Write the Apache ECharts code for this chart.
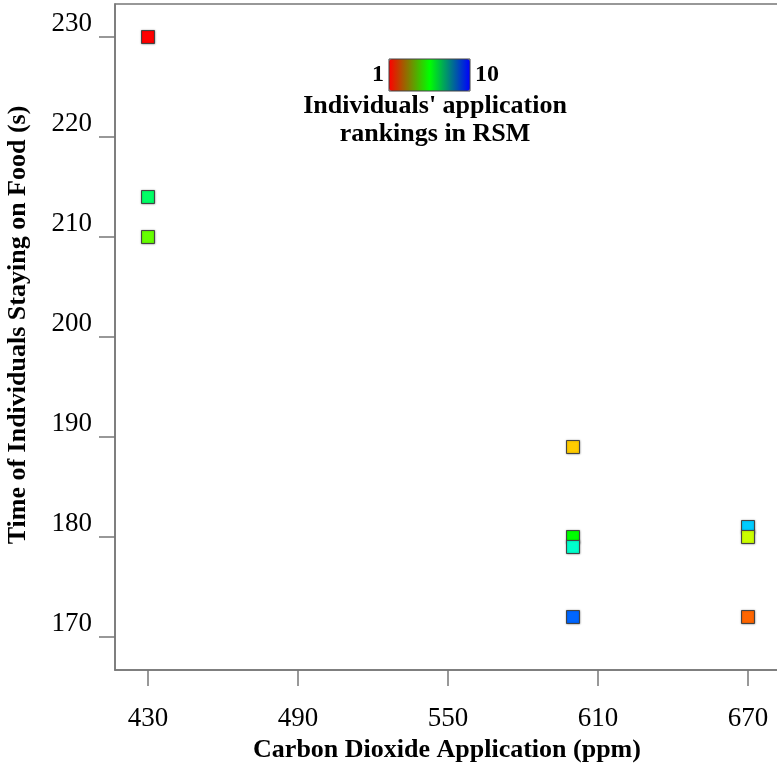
<!DOCTYPE html>
<html>
<head>
<meta charset="utf-8">
<script src="https://cdn.jsdelivr.net/npm/echarts@6/dist/echarts.min.js"></script>
<style>html,body{margin:0;padding:0;background:#fff}#c{width:777px;height:767px}</style>
</head>
<body>
<div id="c"></div>
<script>
// Data
var co2 = [430, 430, 430, 600, 600, 600, 600, 670, 670, 670];
var timeOnFood = [230, 214, 210, 189, 180, 179, 172, 181, 180, 172];
var ranking = [1, 7, 5, 3, 6, 8, 10, 9, 4, 2];
var xTicks = [430, 490, 550, 610, 670];
var yTicks = [170, 180, 190, 200, 210, 220, 230];
var rankColors = ['#ff0000','#ff6600','#ffcc00','#ccff00','#66ff00','#00ff00','#00ff66','#00ffcc','#00ccff','#0066ff'];
var legendColors = ['#ff0000','#00ff00','#0000ff'];

var FONT = "'Liberation Serif','Times New Roman',serif";
var pts = co2.map(function(x, i){ return [x, timeOnFood[i], ranking[i]]; });

var chart = echarts.init(document.getElementById('c'));
chart.setOption({
  animation: false,
  backgroundColor: '#fff',
  grid: {left: 115, right: -2, top: 4, bottom: 97, outerBoundsMode: 'none', show: true, borderColor: '#777', borderWidth: 1.5, containLabel: false},
  xAxis: {
    type: 'value', min: 416.8, max: 682.4,
    name: 'Carbon Dioxide Application (ppm)', nameLocation: 'middle', nameGap: 65,
    nameTextStyle: {fontFamily: FONT, fontWeight: 'bold', fontSize: 26, color: '#000'},
    axisLine: {lineStyle: {color: '#777', width: 1.5}},
    axisTick: {show: true, length: 16, customValues: xTicks, lineStyle: {color: '#777', width: 1.5}},
    axisLabel: {customValues: xTicks, margin: 35, fontFamily: FONT, fontSize: 27, color: '#000'},
    splitLine: {show: false}
  },
  yAxis: {
    type: 'value', min: 166.7, max: 233.3,
    name: 'Time of Individuals Staying on Food (s)', nameLocation: 'middle', nameGap: 84, nameRotate: 90,
    nameTextStyle: {fontFamily: FONT, fontWeight: 'bold', fontSize: 26, color: '#000', padding: [0, 0, 0, 24]},
    axisLine: {lineStyle: {color: '#777', width: 1.5}},
    axisTick: {show: true, length: 16, customValues: yTicks, lineStyle: {color: '#777', width: 1.5}},
    axisLabel: {customValues: yTicks, margin: 23, verticalAlign: 'bottom', fontFamily: FONT, fontSize: 27, color: '#000'},
    splitLine: {show: false}
  },
  visualMap: {
    type: 'continuous', orient: 'horizontal', min: 1, max: 10, dimension: 2, seriesIndex: 0,
    calculable: false, hoverLink: false, itemWidth: 32, itemHeight: 81,
    text: ['10', '1'], textGap: 5, left: 372, top: 59, padding: 0,
    inRange: {color: rankColors},
    controller: {inRange: {color: legendColors}},
    textStyle: {fontFamily: FONT, fontWeight: 'bold', fontSize: 24, color: '#000'}
  },
  graphic: [{
    type: 'rect', shape: {x: 389, y: 59, width: 81, height: 32},
    style: {fill: 'none', stroke: '#444', lineWidth: 1}, z: 100
  }, {
    type: 'text', x: 435, y: 92,
    style: {text: "Individuals' application\nrankings in RSM", fontFamily: FONT, fontWeight: 'bold', fontSize: 26, lineHeight: 28, fill: '#000', align: 'center', verticalAlign: 'top'}
  }],
  series: [{
    type: 'scatter', symbol: 'rect', symbolSize: 13, data: pts,
    itemStyle: {borderColor: '#444', borderWidth: 1, opacity: 1, shadowBlur: 2, shadowColor: 'rgba(0,0,0,0.35)'}
  }]
});
</script>
</body>
</html>
